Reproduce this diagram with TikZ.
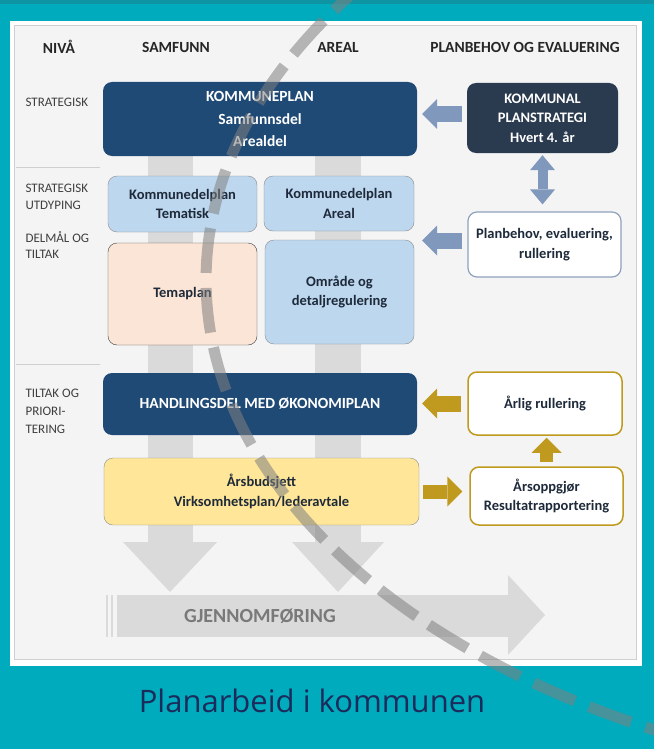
\documentclass[tikz,border=0pt]{standalone}
\usepackage{fontspec}
\setmainfont{Carlito}
\newfontfamily\titlefont{Open Sans}
\usetikzlibrary{arrows.meta}

\definecolor{bgteal}{HTML}{00ABBD}
\definecolor{bgtealdark}{HTML}{0E94A2}
\definecolor{panelgray}{HTML}{F4F4F4}
\definecolor{panelline}{HTML}{CFCFCF}
\definecolor{navybox}{HTML}{1F4A75}
\definecolor{slatebox}{HTML}{2A3A4F}
\definecolor{lightblue}{HTML}{BDD7EE}
\definecolor{peach}{HTML}{FBE5D6}
\definecolor{paleyellow}{HTML}{FFE699}
\definecolor{steelarrow}{HTML}{7F98BB}
\definecolor{goldtone}{HTML}{C09A1E}
\definecolor{bargray}{HTML}{DADADA}
\definecolor{headdark}{HTML}{262626}
\definecolor{labelgray}{HTML}{3F3F3F}
\definecolor{boxtext}{HTML}{1E2A3A}
\definecolor{boxborder}{HTML}{8C8C8C}
\definecolor{planborder}{HTML}{8EA2BD}
\definecolor{titlenavy}{HTML}{1B2C5C}

\tikzset{
        colhead/.style={font=\bfseries\fontsize{15.5}{18}\selectfont, text=headdark},
        levelnote/.style={anchor=west, align=left, font=\fontsize{13}{16.5}\selectfont, text=labelgray},
        planbox/.style={rounded corners=9pt, align=center, inner sep=0pt,
                font=\bfseries\fontsize{14.5}{19.5}\selectfont, text=boxtext},
        navyplan/.style={planbox, fill=navybox, text=white},
        slateplan/.style={planbox, fill=slatebox, text=white},
        blueplan/.style={planbox, fill=lightblue, draw=boxborder},
        peachplan/.style={planbox, fill=peach, draw=labelgray},
        yellowplan/.style={planbox, fill=paleyellow, draw=boxborder},
        openplan/.style={planbox, fill=white, draw=planborder, line width=1.2pt},
        goldplan/.style={planbox, fill=white, draw=goldtone, line width=1.5pt},
        bluearrow/.style={draw=steelarrow, line width=16pt,
                -{Triangle[width=30pt,length=15pt,line width=0pt]}},
        goldarrow/.style={draw=goldtone, line width=16pt,
                -{Triangle[width=30pt,length=15pt,line width=0pt]}},
        sepline/.style={draw=panelline, line width=1pt},
        arcdash/.style={draw=gray, draw opacity=0.55, line width=11pt, dash pattern=on 45pt off 15pt}
}

\begin{document}
\begin{tikzpicture}[x=1pt, y=-1pt]
        \useasboundingbox (0,0) rectangle (654,749);
        \fill[bgteal] (0,0) rectangle (654,749);
        \fill[bgtealdark] (0,0) rectangle (654,4);
        \fill[white] (10,21) rectangle (642,666);
        \filldraw[fill=panelgray, draw=panelline] (14,25) rectangle (636,659);

        \node[colhead] (nivaa) at (59,47) {NIVÅ};
        \node[colhead] (samfunn) at (176,47) {SAMFUNN};
        \node[colhead] (areal) at (338,47) {AREAL};
        \node[colhead] (behov) at (525,47) {PLANBEHOV OG EVALUERING};

        \node[levelnote] (strat) at (22,102) {STRATEGISK};
        \node[levelnote] (utdyp) at (22,197) {STRATEGISK\\UTDYPING};
        \node[levelnote] (delmaal) at (22,245) {DELMÅL OG\\TILTAK};
        \node[levelnote, font=\fontsize{13}{18}\selectfont] (prior) at (22,411) {TILTAK OG\\PRIORI-\\TERING};
        \draw[sepline] (16,167) -- (100,167);
        \draw[sepline] (16,364) -- (100,364);

        \fill[bargray] (148,140) rectangle (193,542);
        \fill[bargray] (123,542) -- (217,542) -- (170,592) -- cycle;
        \fill[bargray] (315,140) rectangle (361,542);
        \fill[bargray] (292,542) -- (384,542) -- (338,592) -- cycle;
        \fill[bargray] (117,595) rectangle (508,637);
        \fill[bargray] (508,575) -- (545,615) -- (508,655) -- cycle;
        \draw[bargray, line width=1.5pt] (107,595) -- (107,637);
        \draw[bargray, line width=1.5pt] (112,595) -- (112,637);
        \node[font=\bfseries\fontsize{20}{24}\selectfont, text=gray!95!black] (gjennom) at (260,616) {GJENNOMFØRING};

        \node[navyplan, minimum width=314pt, minimum height=74pt, font=\bfseries\fontsize{15.5}{22.5}\selectfont]
                (kplan) at (260,119) {KOMMUNEPLAN\\Samfunnsdel\\Arealdel};
        \node[slateplan, minimum width=151pt, minimum height=70pt] (strategi) at (542.5,118)
                {KOMMUNAL\\PLANSTRATEGI\\Hvert 4. år};
        \node[blueplan, minimum width=149pt, minimum height=56pt] (tematisk) at (182.5,204)
                {Kommunedelplan\\Tematisk};
        \node[blueplan, minimum width=150pt, minimum height=55pt] (arealdel) at (339,203.5)
                {Kommunedelplan\\Areal};
        \node[peachplan, minimum width=149pt, minimum height=102pt] (temaplan) at (182.5,294) {Temaplan};
        \node[blueplan, minimum width=149pt, minimum height=104pt] (omraade) at (339.5,292)
                {Område og\\detaljregulering};
        \node[openplan, minimum width=153pt, minimum height=65pt] (planbehov) at (544.5,244.5)
                {Planbehov, evaluering,\\rullering};
        \node[navyplan, minimum width=314pt, minimum height=62pt, font=\bfseries\fontsize{15.5}{19}\selectfont]
                (handling) at (260,404) {HANDLINGSDEL MED ØKONOMIPLAN};
        \node[goldplan, minimum width=154pt, minimum height=63pt] (aarlig) at (545,403.5) {Årlig rullering};
        \node[yellowplan, minimum width=315pt, minimum height=67pt] (budsjett) at (261.5,491.5)
                {Årsbudsjett\\Virksomhetsplan/lederavtale};
        \node[goldplan, minimum width=153pt, minimum height=58pt] (oppgjor) at (546.5,496)
                {Årsoppgjør\\Resultatrapportering};

        \draw[bluearrow, shorten <=5pt, shorten >=5pt]
                ([yshift=4pt]strategi.west) -- ([yshift=4pt]strategi.west -| kplan.east);
        \draw[bluearrow, shorten <=5pt, shorten >=5pt]
                ([yshift=4pt]planbehov.west) -- ([yshift=4pt]planbehov.west -| kplan.east);
        \draw[draw=steelarrow, line width=10pt, shorten <=2pt, shorten >=7pt,
                {Triangle[width=25pt,length=15pt,line width=0pt]}-{Triangle[width=25pt,length=15pt,line width=0pt]}]
                (strategi.south) -- (strategi.south |- planbehov.north);
        \draw[goldarrow, shorten <=6pt, shorten >=5pt] (aarlig.west) -- (aarlig.west -| handling.east);
        \draw[goldarrow, line width=14pt, shorten <=4pt, shorten >=7pt]
                (budsjett.east) -- (budsjett.east -| oppgjor.west);
        \draw[goldarrow, line width=13pt, shorten <=4pt, shorten >=2pt]
                (oppgjor.north) -- (oppgjor.north |- aarlig.south);

        \begin{scope}
                \clip (0,0) rectangle (654,749);
                \draw[arcdash] (367.8,-19.8) arc[start angle=216, end angle=114, x radius=847, y radius=510];
        \end{scope}

        \node[font=\titlefont\fontsize{31}{36}\selectfont, text=titlenavy] (caption) at (312,701) {Planarbeid i kommunen};
\end{tikzpicture}
\end{document}
